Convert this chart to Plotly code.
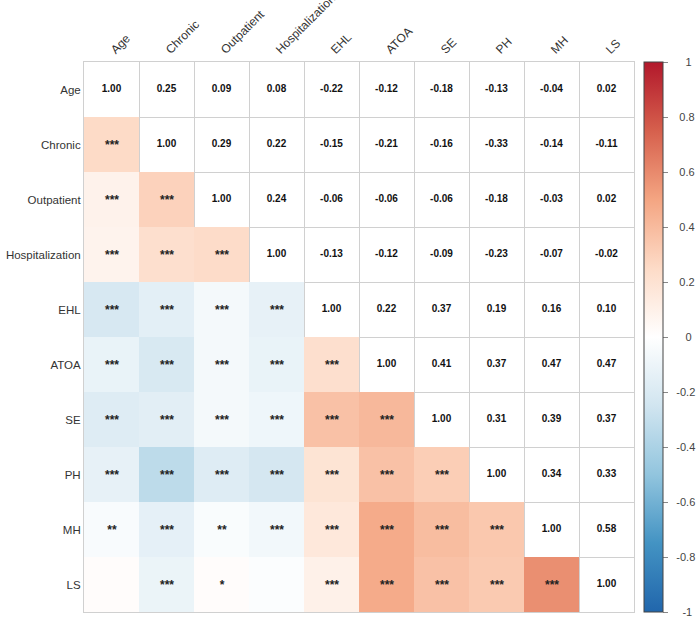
import plotly.graph_objects as go

variables = ["Age", "Chronic", "Outpatient", "Hospitalization", "EHL",
             "ATOA", "SE", "PH", "MH", "LS"]

# Upper triangle correlations (row i, columns i+1..end)
upper_age = [0.25, 0.09, 0.08, -0.22, -0.12, -0.18, -0.13, -0.04, 0.02]
upper_chronic = [0.29, 0.22, -0.15, -0.21, -0.16, -0.33, -0.14, -0.11]
upper_outpatient = [0.24, -0.06, -0.06, -0.06, -0.18, -0.03, 0.02]
upper_hospitalization = [-0.13, -0.12, -0.09, -0.23, -0.07, -0.02]
upper_ehl = [0.22, 0.37, 0.19, 0.16, 0.10]
upper_atoa = [0.41, 0.37, 0.47, 0.47]
upper_se = [0.31, 0.39, 0.37]
upper_ph = [0.34, 0.33]
upper_mh = [0.58]
upper_ls = []
upper_rows = [upper_age, upper_chronic, upper_outpatient, upper_hospitalization,
              upper_ehl, upper_atoa, upper_se, upper_ph, upper_mh, upper_ls]

# Significance stars, lower triangle (row i, columns 0..i-1)
stars_rows = [
    [],
    ["***"],
    ["***", "***"],
    ["***", "***", "***"],
    ["***", "***", "***", "***"],
    ["***", "***", "***", "***", "***"],
    ["***", "***", "***", "***", "***", "***"],
    ["***", "***", "***", "***", "***", "***", "***"],
    ["**", "***", "**", "***", "***", "***", "***", "***"],
    ["", "***", "*", "", "***", "***", "***", "***", "***"],
]

colorbar_ticks = [-1, -0.8, -0.6, -0.4, -0.2, 0, 0.2, 0.4, 0.6, 0.8, 1]

n = len(variables)
r = [[1.0] * n for _ in range(n)]
for i, row in enumerate(upper_rows):
    for k, v in enumerate(row):
        j = i + 1 + k
        r[i][j] = v
        r[j][i] = v

z_lower = [[r[i][j] if i > j else None for j in range(n)] for i in range(n)]
t_lower = [[(stars_rows[i][j] if j < len(stars_rows[i]) else "") for j in range(n)] for i in range(n)]

ux, uy, ut = [], [], []
for i in range(n):
    for j in range(i, n):
        ux.append(j)
        uy.append(i)
        ut.append(f"{r[i][j]:.2f}")

colorscale = [[0, '#2166AC'], [0.125, '#4393C3'], [0.25, '#92C5DE'], [0.375, '#D1E5F0'],
              [0.5, '#FFFFFF'], [0.625, '#FDDBC7'], [0.75, '#F4A582'], [0.875, '#D6604D'],
              [1, '#B2182B']]


def cb_label(v):
    s = f"{v:g}"
    pad = {1: 5, 2: 4, 3: 3, 4: 2}.get(len(s), 2)
    return "\u00a0" * pad + s


fig = go.Figure()
fig.add_trace(go.Heatmap(
    z=z_lower, x=list(range(n)), y=list(range(n)),
    text=t_lower, texttemplate="%{text}",
    textfont=dict(family="Liberation Sans, Arial", size=12, color="#222222", weight="bold"),
    colorscale=colorscale, zmin=-1, zmax=1, hoverongaps=False,
    colorbar=dict(
        x=1.0164, xanchor="left", xpad=0, y=0.5, yanchor="middle",
        len=1, lenmode="fraction", thickness=19, ypad=0,
        outlinewidth=1, outlinecolor="#444444",
        tickvals=colorbar_ticks, ticktext=[cb_label(v) for v in colorbar_ticks],
        ticks="outside", ticklen=5, tickcolor="#888888",
        ticklabeloverflow="allow",
        tickfont=dict(family="Liberation Sans, Arial", size=11, color="#444444"),
    ),
))
fig.add_trace(go.Scatter(
    x=ux, y=uy, text=ut, mode="text",
    textfont=dict(family="Liberation Sans, Arial", size=10, color="#111111", weight="bold"),
    showlegend=False, hoverinfo="skip",
))

grid_vals = [k - 0.5 for k in range(n + 1)]
fig.update_xaxes(
    side="top", range=[-0.5, n - 0.5], tickvals=list(range(n)), ticktext=variables,
    tickangle=-45, showgrid=False, zeroline=False, ticks="", automargin=False,
    tickfont=dict(family="Liberation Sans, Arial", size=12, color="#333333"),
    minor=dict(tickvals=grid_vals, showgrid=True, gridcolor="#d0d0d0", gridwidth=1, ticks=""),
    showline=True, mirror=True, linecolor="#d0d0d0", linewidth=1,
)
fig.update_yaxes(
    range=[n - 0.5, -0.5], tickvals=list(range(n)), ticktext=variables,
    showgrid=False, zeroline=False, ticks="", ticklen=0, automargin=False,
    tickfont=dict(family="Liberation Sans, Arial", size=11.5, color="#333333"),
    minor=dict(tickvals=grid_vals, showgrid=True, gridcolor="#d0d0d0", gridwidth=1, ticks=""),
    showline=True, mirror=True, linecolor="#d0d0d0", linewidth=1,
)
fig.update_layout(
    width=700, height=617,
    margin=dict(l=84, r=65, t=62, b=5),
    paper_bgcolor="white", plot_bgcolor="white",
    showlegend=False,
)
fig.write_html("out.html")
